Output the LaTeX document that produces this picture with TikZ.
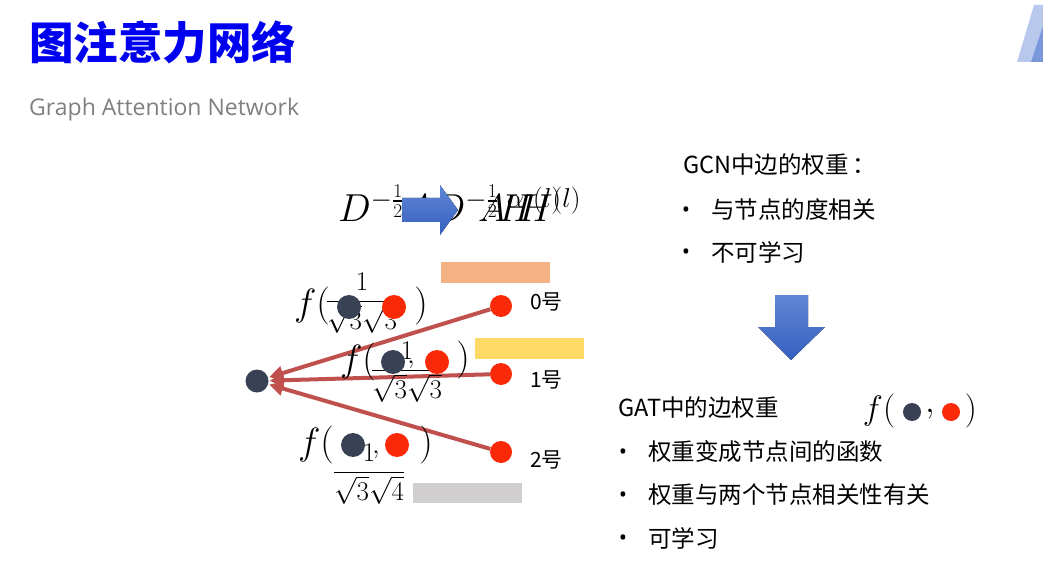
\RequirePackage{fix-cm}
\documentclass[tikz,border=0pt]{standalone}
\usepackage{amsmath, amssymb}
\usepackage{fontspec}
\usepackage{xcolor}
\usepackage{tikz}
\usetikzlibrary{arrows.meta, positioning, calc}

\newfontfamily\cjk{Noto Sans CJK SC}
\newfontfamily\subfont{Open Sans}

\definecolor{nodedark}{RGB}{56,66,84}
\definecolor{nodered}{RGB}{250,42,8}
\definecolor{edgered}{RGB}{192,80,77}
\definecolor{barorange}{RGB}{244,177,131}
\definecolor{baryellow}{RGB}{255,217,102}
\definecolor{bargray}{RGB}{208,206,206}
\definecolor{arrowtop}{RGB}{96,134,212}
\definecolor{arrowbot}{RGB}{52,96,192}
\definecolor{titleblue}{RGB}{0,0,240}

\tikzset{
  dotdark/.style={circle, fill=nodedark, inner sep=0pt, minimum size=#1},
  dotred/.style={circle, fill=nodered, inner sep=0pt, minimum size=#1},
  wedge/.style={edgered, line width=4pt, -{Triangle[length=14pt,width=14pt]}, shorten >=1pt},
  mathtxt/.style={inner sep=0pt, font=\fontsize{#1}{#1}\selectfont},
  cjktxt/.style={inner sep=0pt, anchor=west, font=\cjk\fontsize{#1}{#1}\selectfont},
  bulletdot/.style={inner sep=0pt, font=\subfont\fontsize{22}{22}\selectfont},
}

\begin{document}
\begin{tikzpicture}[x=1pt, y=-1pt]
        \useasboundingbox (0,0) rectangle (1043,577);
        \fill[white] (0,0) rectangle (1043,577);

        % Title
        \node[inner sep=0pt, anchor=west, text=titleblue, font=\cjk\bfseries\fontsize{44.5}{44.5}\selectfont] (title) at (29,42) {图注意力网络};
        \node[inner sep=0pt, anchor=west, text=black!50, font=\subfont\fontsize{23}{23}\selectfont] (subtitle) at (29,110) {Graph Attention Network};

        % Corner band
        \fill[arrowtop!45] (1017,62) -- (1034,5) -- (1043,5) -- (1043,62) -- cycle;
        \fill[arrowtop!85] (1031,62) -- (1043,26) -- (1043,62) -- cycle;

        % GCN formula
        \node[mathtxt=39, anchor=base west] (eqgcn) at (338,222) {$D^{-\frac{1}{2}}AD^{-\frac{1}{2}}H^{(l)}$};
        \node[mathtxt=39, anchor=base west] (eqgat) at (478,222) {$A{}^{\alpha}\!H^{(l)}$};
        \fill[top color=arrowtop, bottom color=arrowbot] (402,198) -- (440,198) -- (440,185) -- (458,210) -- (440,235) -- (440,222) -- (402,222) -- cycle;

        % Colour bars
        \fill[barorange] (441,262) rectangle (550,283);
        \fill[baryellow] (475,338) rectangle (584,359);
        \fill[bargray] (413,483) rectangle (522,503);

        % Nodes
        \node[dotdark=23pt] (c) at (257,381) {};
        \node[dotred=22pt] (n0) at (501,306) {};
        \node[dotred=22pt] (n1) at (501,374) {};
        \node[dotred=22pt] (n2) at (501,452) {};
        \node[cjktxt=21] (l0) at (530,302) {0号};
        \node[cjktxt=21] (l1) at (530,380) {1号};
        \node[cjktxt=21] (l2) at (530,460) {2号};

        % Edges
        \draw[wedge] (n0) -- (c);
        \draw[wedge] (n1) -- (c);
        \draw[wedge] (n2) -- (c);

        % Edge weights
        \node[mathtxt=38] (fa0) at (312,306) {$f($};
        \node[mathtxt=27] (fr0) at (362,303) {$\dfrac{1}{\sqrt{3}\sqrt{3}}$};
        \node[dotdark=24pt] (da0) at (349,307) {};
        \node[dotred=24pt] (ra0) at (394,307) {};
        \node[mathtxt=38] (fb0) at (421,306) {$)$};

        \node[mathtxt=38] (fa1) at (358,362) {$f($};
        \node[mathtxt=27] (fr1) at (407,372) {$\dfrac{1}{\sqrt{3}\sqrt{3}}$};
        \node[dotdark=24pt] (da1) at (393,362) {};
        \node[mathtxt=27] (cm1) at (411,365) {$,$};
        \node[dotred=24pt] (ra1) at (437,362) {};
        \node[mathtxt=38] (fb1) at (463,360) {$)$};

        \node[mathtxt=38] (fa2) at (316,445) {$f($};
        \node[mathtxt=27] (fr2) at (369,474) {$\dfrac{1}{\sqrt{3}\sqrt{4}}$};
        \node[dotdark=24pt] (da2) at (353,445) {};
        \node[mathtxt=27] (cm2) at (376,455) {$,$};
        \node[dotred=24pt] (ra2) at (397,445) {};
        \node[mathtxt=38] (fb2) at (426,445) {$)$};

        % GCN notes
        \node[cjktxt=23.5] (gcn) at (683,165) {GCN中边的权重\,：};
        \node[bulletdot] (gb1) at (686,212) {•};
        \node[cjktxt=23.5] (gt1) at (711,210) {与节点的度相关};
        \node[bulletdot] (gb2) at (686,254) {•};
        \node[cjktxt=23.5] (gt2) at (711,252) {不可学习};

        % Down arrow
        \fill[top color=arrowtop, bottom color=arrowbot] (775,295) -- (808,295) -- (808,327) -- (825,327) -- (791,360) -- (758,327) -- (775,327) -- cycle;

        % GAT notes
        \node[cjktxt=23.5] (gat) at (618,408) {GAT中的边权重};
        \node[mathtxt=34] (fr) at (879,411) {$f($};
        \node[dotdark=18pt] (dr) at (912,412) {};
        \node[mathtxt=34] (cr) at (930,414) {$,$};
        \node[dotred=18pt] (rr) at (951,412) {};
        \node[mathtxt=34] (fbr) at (971,411) {$)$};
        \node[bulletdot] (ab1) at (623,454) {•};
        \node[cjktxt=23.5] (at1) at (648,452) {权重变成节点间的函数};
        \node[bulletdot] (ab2) at (623,497) {•};
        \node[cjktxt=23.5] (at2) at (648,495) {权重与两个节点相关性有关};
        \node[bulletdot] (ab3) at (623,540) {•};
        \node[cjktxt=23.5] (at3) at (648,538) {可学习};
\end{tikzpicture}
\end{document}
